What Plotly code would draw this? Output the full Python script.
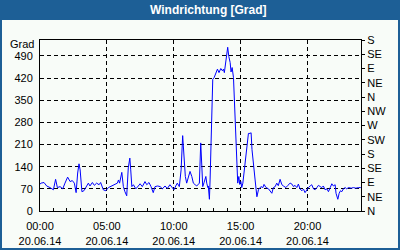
import pandas as pd
import plotly.graph_objects as go

# --- data -------------------------------------------------------------
times = [
    "00:00", "00:05", "00:18", "00:30", "00:45", "01:00", "01:10", "01:18", "01:30", "01:42",
    "01:52", "02:04", "02:15", "02:25", "02:34", "02:42", "02:49", "02:55", "03:00", "03:08",
    "03:17", "03:26", "03:37", "03:44", "03:55", "04:04", "04:14", "04:25", "04:32", "04:44",
    "04:55", "05:07", "05:22", "05:37", "05:47", "05:52", "05:57", "06:07", "06:14", "06:21",
    "06:29", "06:36", "06:43", "06:47", "06:52", "06:59", "07:10", "07:21", "07:29", "07:39",
    "07:51", "07:59", "08:09", "08:18", "08:28", "08:36", "08:48", "08:59", "09:09", "09:21",
    "09:31", "09:43", "09:54", "10:01", "10:09", "10:16", "10:25", "10:33", "10:40", "10:46",
    "10:52", "10:58", "11:06", "11:13", "11:21", "11:28", "11:36", "11:43", "11:55", "12:01",
    "12:06", "12:10", "12:16", "12:24", "12:28", "12:33", "12:35", "12:40", "12:43", "12:46",
    "12:51", "12:55", "13:01", "13:09", "13:16", "13:23", "13:31", "13:38", "13:43", "13:47",
    "13:53", "13:58", "14:02", "14:07", "14:13", "14:17", "14:22", "14:28", "14:32", "14:38",
    "14:43", "14:47", "14:52", "14:56", "15:01", "15:05", "15:10", "15:16", "15:23", "15:30",
    "15:35", "15:42", "15:47", "15:51", "15:57", "16:05", "16:13", "16:20", "16:31", "16:40",
    "16:45", "16:54", "17:05", "17:12", "17:20", "17:27", "17:35", "17:42", "17:49", "17:57",
    "18:05", "18:12", "18:23", "18:32", "18:42", "18:50", "18:57", "19:04", "19:12", "19:19",
    "19:27", "19:35", "19:42", "19:49", "19:57", "20:04", "20:12", "20:19", "20:27", "20:34",
    "20:42", "20:49", "20:57", "21:04", "21:11", "21:19", "21:27", "21:34", "21:42", "21:49",
    "21:56", "22:04", "22:08", "22:16", "22:22", "22:28", "22:34", "22:41", "22:49", "22:56",
    "23:04", "23:16", "23:26", "23:37", "23:49", "23:59",
]
direction = [
    85, 88, 90, 79, 74, 67, 100, 74, 77, 70,
    88, 107, 93, 96, 88, 58, 120, 149, 130, 61,
    64, 75, 88, 79, 90, 81, 88, 83, 90, 67,
    64, 74, 79, 83, 88, 98, 88, 122, 77, 61,
    48, 136, 167, 130, 77, 83, 70, 79, 86, 77,
    93, 83, 90, 77, 58, 77, 79, 77, 70, 79,
    71, 83, 72, 67, 79, 88, 77, 130, 238, 183,
    109, 88, 105, 125, 109, 88, 83, 79, 88, 215,
    141, 77, 90, 109, 88, 74, 79, 37, 98, 204,
    331, 416, 421, 437, 448, 437, 450, 443, 448, 437,
    471, 492, 517, 488, 469, 439, 453, 421, 347, 225,
    141, 88, 109, 84, 93, 74, 88, 130, 183, 215,
    245, 245, 247, 194, 141, 98, 45, 67, 77, 74,
    84, 74, 70, 64, 56, 74, 77, 88, 80, 100,
    83, 79, 74, 81, 88, 85, 77, 81, 74, 85,
    69, 64, 69, 58, 67, 74, 79, 83, 70, 67,
    74, 81, 77, 74, 79, 67, 70, 61, 74, 86,
    79, 83, 56, 37, 56, 64, 61, 70, 74, 70,
    74, 72, 74, 72, 74, 74,
]
day = "2014-06-20"
x_tick_times = ["00:00", "05:00", "10:00", "15:00", "20:00"]
x_tick_date = "20.06.14"
y_ticks = [0, 70, 140, 210, 280, 350, 420, 490]
compass_vals = [0, 45, 90, 135, 180, 225, 270, 315, 360, 405, 450, 495, 540]
compass_text = ["N", "NE", "E", "SE", "S", "SW", "W", "NW", "N", "NE", "E", "SE", "S"]
title_text = "Windrichtung [Grad]"
unit_text = "Grad"

# --- figure -----------------------------------------------------------
W, H = 400, 250
L, R, T, B = 40, 39, 40, 39
pw, ph = W - L - R, H - T - B
BLUE = "#1d5f96"
BG = "#f8fcf8"
FONT = "Liberation Sans"

xs = pd.to_datetime([f"{day} {t}" for t in times])
x_range = [pd.Timestamp(f"{day} 00:00"), pd.Timestamp(f"{day} 00:00") + pd.Timedelta(hours=24)]

fig = go.Figure()
fig.add_trace(go.Scatter(x=xs, y=direction, mode="lines",
                         line=dict(color="#0000ff", width=1), showlegend=False,
                         hoverinfo="skip"))
fig.add_trace(go.Scatter(x=[xs[0]], y=[0], yaxis="y2", mode="markers",
                         marker=dict(opacity=0), showlegend=False, hoverinfo="skip"))

def px_x(p):
    return (p - L) / pw

def px_y(p):
    return (H - B - p) / ph

fig.update_layout(
    width=W, height=H,
    margin=dict(l=L, r=R, t=T, b=B, pad=0, autoexpand=False),
    paper_bgcolor=BLUE, plot_bgcolor=BG,
    font=dict(family=FONT, size=11, color="black"),
    showlegend=False,
    xaxis=dict(
        type="date", range=x_range, automargin=False,
        tickmode="array",
        tickvals=[pd.Timestamp(f"{day} {t}") for t in x_tick_times],
        ticktext=[f"{t}<br>{x_tick_date}" for t in x_tick_times],
        ticks="inside", ticklen=3, tickcolor="black", ticklabelstandoff=5,
        showgrid=True, gridcolor="black", griddash="4px,3px", gridwidth=1,
        showline=True, linecolor="black", linewidth=1, mirror=True,
        minor=dict(dtick=3600000, tick0=x_range[0], ticks="inside", ticklen=3,
                   tickcolor="black", showgrid=False),
        zeroline=False, fixedrange=True,
    ),
    yaxis=dict(
        range=[0, 540], tickmode="array", tickvals=y_ticks, automargin=False,
        ticks="", ticklabelstandoff=4,
        showgrid=True, gridcolor="black", griddash="4px,3px", gridwidth=1,
        showline=True, linecolor="black", linewidth=1, mirror=True,
        zeroline=False, fixedrange=True,
    ),
    yaxis2=dict(
        range=[0, 540], overlaying="y", side="right", anchor="x", automargin=False,
        tickmode="array", tickvals=compass_vals, ticktext=compass_text,
        ticks="outside", ticklen=3, tickcolor="black",
        showgrid=False, showline=False, zeroline=False, fixedrange=True,
    ),
    shapes=[dict(type="rect", xref="paper", yref="paper", layer="below",
                 x0=px_x(2), x1=px_x(W - 2), y0=px_y(H - 2), y1=px_y(20),
                 fillcolor=BG, line=dict(width=0))],
    annotations=[
        dict(text=f"<b>{title_text}</b>", xref="paper", yref="paper",
             x=px_x(209), y=px_y(10), xanchor="center", yanchor="middle",
             showarrow=False, font=dict(color="white", size=12, family=FONT)),
        dict(text=unit_text, xref="paper", yref="paper",
             x=px_x(36), y=px_y(44), xanchor="right", yanchor="middle",
             showarrow=False, font=dict(color="black", size=11, family=FONT)),
    ],
)

fig.write_html("out.html", include_plotlyjs=True, config={"displayModeBar": False})
